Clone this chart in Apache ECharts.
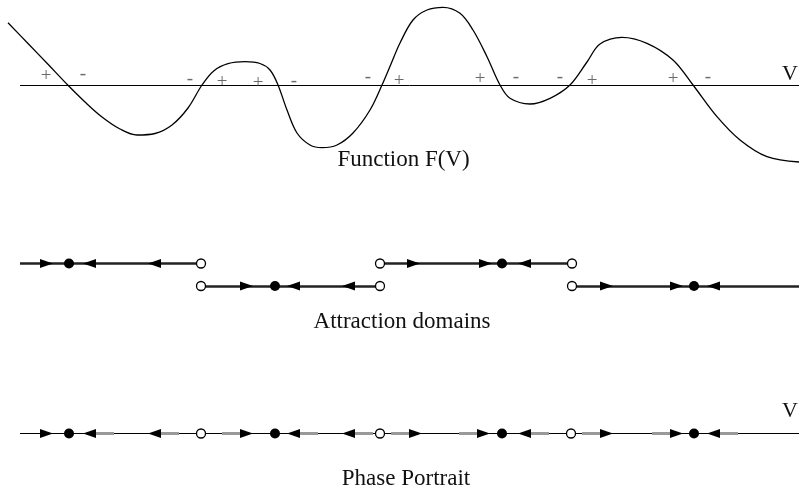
<!DOCTYPE html>
<html><head><meta charset="utf-8">
<script src="https://cdn.jsdelivr.net/npm/echarts/dist/echarts.min.js"></script>
<style>html,body{margin:0;padding:0;background:#fff}#c{width:799px;height:493px}</style>
</head><body><div id="c"></div>
<script>
// ---- data ----
const curveV = [8,28,48,68,85,102,120,137,155,172,188,202,214,228,245,260,270,278,287,297,310,322,337,353,370,382,391,400,413,427,443,460,473,487,500,510,530,550,570,587,600,622,647,673,693,717,740,767,799];
const curveF = [62.8,42,21.2,0.2,-16.5,-31.5,-43.5,-49.5,-48,-39.5,-22.5,0.5,14.8,21.8,23.8,22,15.5,0.5,-24.5,-47.5,-59.5,-62.2,-59.5,-47.5,-24.5,0.5,21.5,42.5,65.5,75.5,78.2,72.2,55.5,28.8,0.5,-12.8,-18.5,-12.8,0.5,23.5,41.5,48.2,42.2,25.5,0.5,-31.2,-54.5,-71.2,-76.5];
const signV = [46,83,190,222,258,294,368,399,480,516,560,592,673,708];
const signF = [9.5,11.5,6.5,3.5,2.5,4.5,8.5,4.5,6.5,8.5,8.5,4.5,6.5,8.5];
const signText = ['+','-','-','+','+','-','-','+','+','-','-','+','+','-'];
const axisRange = [20, 799];
// row levels (below the F axis)
const domainRow1 = -178, domainRow2 = -200.5, phaseRow = -348;
// attraction domain segments
const domain1Segments = [[20,201],[380,572]];
const domain2Segments = [[201,380],[572,799]];
const domain1RightTips = [53,420,492], domain1LeftTips = [83,148,518];
const domain1Stable = [69,502], domain1Unstable = [201,380,572];
const domain2RightTips = [253,613,683], domain2LeftTips = [287,342,707];
const domain2Stable = [275,694], domain2Unstable = [201,380,572];
// phase portrait
const phaseRightTips = [53,253,422,490,613,683];
const phaseLeftTips = [83,148,287,342,518,707];
const phaseStable = [69,275,502,694];
const phaseUnstable = [201,380,571];

// ---- build ----
const ARW = 13, ARH = 9, SHAFT = 18;
const pts = (xs, y) => xs.map(x => [x, y]);
const segs = (list, y) => list.map(s => ({coords: [[s[0], y], [s[1], y]]}));

const rightArrows = [].concat(pts(domain1RightTips, domainRow1), pts(domain2RightTips, domainRow2), pts(phaseRightTips, phaseRow));
const leftArrows = [].concat(pts(domain1LeftTips, domainRow1), pts(domain2LeftTips, domainRow2), pts(phaseLeftTips, phaseRow));
const stable = [].concat(pts(domain1Stable, domainRow1), pts(domain2Stable, domainRow2), pts(phaseStable, phaseRow));
const unstable = [].concat(pts(domain1Unstable, domainRow1), pts(domain2Unstable, domainRow2), pts(phaseUnstable, phaseRow));
const shafts = [].concat(
  phaseRightTips.slice(1).map(t => [t - ARW - SHAFT, t - ARW]),
  phaseLeftTips.map(t => [t + ARW, t + ARW + SHAFT])
);

const chart = echarts.init(document.getElementById('c'), null, {renderer: 'canvas'});
const serif = '"Liberation Serif","Times New Roman",serif';
const txt = (x, y, s, size) => ({type:'text', x:x, y:y, style:{text:s, font:size + 'px ' + serif, fill:'#111', textAlign:'center', textVerticalAlign:'middle', align:'center', verticalAlign:'middle'}});
chart.setOption({
  animation: false,
  backgroundColor: '#fff',
  grid: {left: 0, right: 0, top: 0, bottom: 0, containLabel: false},
  xAxis: {type: 'value', min: 0, max: 799, show: false},
  yAxis: {type: 'value', min: -407.5, max: 85.5, show: false},
  graphic: [
    txt(403.5, 160, 'Function F(V)', 23),
    txt(402, 322, 'Attraction domains', 23),
    txt(406, 479, 'Phase Portrait', 23),
    txt(790, 74, 'V', 22),
    txt(790, 411, 'V', 22)
  ],
  series: [
    {type:'lines', coordinateSystem:'cartesian2d', z:1, silent:true,
     lineStyle:{color:'#000', width:1, opacity:1},
     data:[{coords:[[axisRange[0],0],[axisRange[1],0]]},{coords:[[axisRange[0],phaseRow],[axisRange[1],phaseRow]]}]},
    {type:'lines', coordinateSystem:'cartesian2d', z:1, silent:true,
     lineStyle:{color:'#999', width:3, opacity:1},
     data: segs(shafts, phaseRow)},
    {type:'lines', coordinateSystem:'cartesian2d', z:2, silent:true,
     lineStyle:{color:'#222', width:2.5, opacity:1},
     data: segs(domain1Segments, domainRow1).concat(segs(domain2Segments, domainRow2))},
    {type:'line', z:3, silent:true, showSymbol:false, symbol:'none', smooth:0.35,
     lineStyle:{color:'#000', width:1.3},
     data: curveV.map((v,i) => [v, curveF[i]])},
    {type:'scatter', z:4, silent:true, symbolSize:0,
     label:{show:true, position:'inside', formatter:'{b}', color:'#444', fontSize:19, fontFamily:serif},
     data: signV.map((v,i) => ({name: signText[i], value:[v, signF[i]]}))},
    {type:'scatter', z:5, silent:true, symbol:'path://M0,0L10,4L0,8Z', symbolSize:[ARW,ARH], symbolOffset:[-ARW/2,0],
     itemStyle:{color:'#000', opacity:1}, data: rightArrows},
    {type:'scatter', z:5, silent:true, symbol:'path://M10,0L0,4L10,8Z', symbolSize:[ARW,ARH], symbolOffset:[ARW/2,0],
     itemStyle:{color:'#000', opacity:1}, data: leftArrows},
    {type:'scatter', z:6, silent:true, symbol:'circle', symbolSize:10,
     itemStyle:{color:'#000', opacity:1}, data: stable},
    {type:'scatter', z:6, silent:true, symbol:'circle', symbolSize:9,
     itemStyle:{color:'#fff', borderColor:'#000', borderWidth:1.3, opacity:1}, data: unstable}
  ]
});
</script>
</body></html>
